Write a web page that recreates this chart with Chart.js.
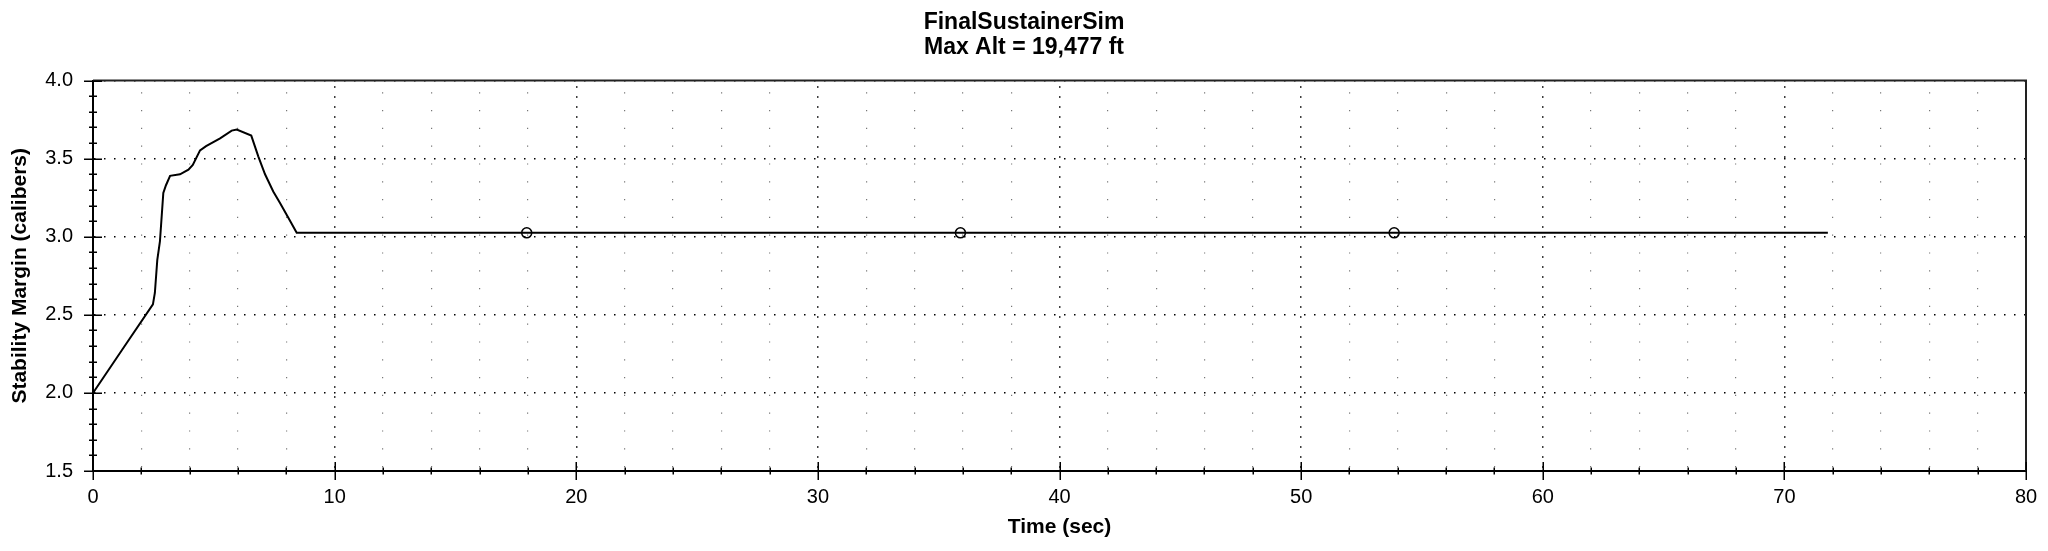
<!DOCTYPE html>
<html>
<head>
<meta charset="utf-8">
<script src="https://cdn.jsdelivr.net/npm/chart.js@4/dist/chart.umd.min.js"></script>
<style>
  html, body { margin: 0; padding: 0; background: #fff; }
  canvas { display: block; }
</style>
</head>
<body>
<canvas id="chart" width="2048" height="551"></canvas>
<script>
// flight data
let time = [0, 1.2, 2.48, 2.56, 2.66, 2.77, 2.91, 3.02, 3.19, 3.6, 3.95, 4.13, 4.43, 4.68,
  5.26, 5.74, 5.95, 6.55, 6.84, 7.12, 7.46, 7.74, 8.09, 8.43, 71.8];
let margin = [2.0, 2.275, 2.567, 2.64, 2.85, 2.97, 3.28, 3.33, 3.39, 3.40, 3.43, 3.46, 3.553, 3.58,
  3.63, 3.68, 3.686, 3.648, 3.515, 3.40, 3.29, 3.216, 3.12, 3.025, 3.025];

let markerTime = [17.95, 35.9, 53.85];
let markerMargin = [3.025, 3.025, 3.025];

let xTicks = [0, 10, 20, 30, 40, 50, 60, 70, 80];
let yTicks = [1.5, 2.0, 2.5, 3.0, 3.5, 4.0];

let titleLines = ['FinalSustainerSim', 'Max Alt = 19,477 ft'];
let xTitle = 'Time (sec)';
let yTitle = 'Stability Margin (calibers)';

const FONT = "'Liberation Sans', Arial, sans-serif";

// frame + tick marks that cross the axis lines
const framePlugin = {
  id: 'frame',
  afterDraw(chart) {
    const {ctx, chartArea: a, scales} = chart;
    const x = scales.x, y = scales.y;
    ctx.save();
    ctx.strokeStyle = '#222';
    ctx.lineWidth = 2;
    ctx.beginPath();
    ctx.moveTo(a.left, a.top);
    ctx.lineTo(a.right, a.top);
    ctx.lineTo(a.right, a.bottom);
    ctx.stroke();

    ctx.strokeStyle = '#000';
    ctx.lineWidth = 1.5;
    ctx.beginPath();
    for (let v = x.min; v <= x.max + 1e-9; v += 2) {
      const px = Math.round(x.getPixelForValue(v)) + 0.25;
      const len = Math.abs(v % 10) < 1e-9 ? 9 : 3.5;
      ctx.moveTo(px, a.bottom - len);
      ctx.lineTo(px, a.bottom + len);
    }
    for (let i = 0; i <= Math.round((y.max - y.min) / 0.1); i++) {
      const v = y.min + i * 0.1;
      const py = Math.round(y.getPixelForValue(v)) + 0.25;
      const len = i % 5 === 0 ? 9 : 4;
      ctx.moveTo(a.left - len, py);
      ctx.lineTo(a.left + len, py);
    }
    ctx.stroke();
    ctx.restore();
  }
};

let ctx = document.getElementById('chart').getContext('2d');
let graph = new Chart(ctx, {
  type: 'scatter',
  data: {
    datasets: [
      {
        label: 'Stability Margin',
        data: time.map((t, i) => ({x: t, y: margin[i]})),
        showLine: true,
        borderColor: '#000',
        borderWidth: 2,
        pointRadius: 0,
        fill: false,
        tension: 0,
      },
      {
        label: 'markers',
        data: markerTime.map((t, i) => ({x: t, y: markerMargin[i]})),
        showLine: false,
        pointRadius: 5,
        pointBorderWidth: 1.5,
        pointBorderColor: '#000',
        pointBackgroundColor: 'rgba(0,0,0,0)',
      },
    ],
  },
  options: {
    responsive: false,
    animation: false,
    devicePixelRatio: 1,
    layout: {padding: 0},
    plugins: {
      legend: {display: false},
      tooltip: {enabled: false},
      title: {
        display: true,
        text: titleLines,
        color: '#000',
        font: {family: FONT, size: 23, weight: 'bold', lineHeight: 1.1},
        padding: {top: 10, bottom: 20},
      },
    },
    scales: {
      x: {
        type: 'linear',
        position: 'bottom',
        min: 0,
        max: 80,
        afterBuildTicks: s => { s.ticks = xTicks.map(v => ({value: v})); },
        afterFit: s => { s.height = 80; s.paddingRight = 22; },
        ticks: {
          color: '#000',
          font: {family: FONT, size: 20},
          padding: 14,
          maxRotation: 0,
          autoSkip: false,
        },
        grid: {
          color: '#000',
          lineWidth: 1.5,
          drawTicks: false,
        },
        border: {display: true, color: '#000', width: 2, dash: [1.5, 8.5], dashOffset: 4.3},
        title: {
          display: true,
          text: xTitle,
          color: '#000',
          font: {family: FONT, size: 21, weight: 'bold', lineHeight: 1.2},
          padding: {top: 0, bottom: 11},
        },
      },
      xm: {
        type: 'linear',
        position: 'bottom',
        min: 0,
        max: 80,
        ticks: {display: false, stepSize: 2},
        afterFit: s => { s.height = 0; },
        grid: {
          color: c => (c.tick && Math.abs(c.tick.value % 10) < 1e-9) ? 'rgba(0,0,0,0)' : '#777',
          lineWidth: 1.2,
          drawTicks: false,
        },
        border: {display: false, dash: [1.2, 16.6], dashOffset: 6.2},
      },
      y: {
        type: 'linear',
        position: 'left',
        min: 1.5,
        max: 4.0,
        afterBuildTicks: s => { s.ticks = yTicks.map(v => ({value: v})); },
        afterFit: s => { s.width = 93; },
        ticks: {
          color: '#000',
          font: {family: FONT, size: 20},
          padding: 20,
          callback: v => Number(v).toFixed(1),
        },
        grid: {
          color: '#000',
          lineWidth: 1.5,
          drawTicks: false,
        },
        border: {display: true, color: '#000', width: 2, dash: [1.5, 8.5], dashOffset: 0},
        title: {
          display: true,
          text: yTitle,
          color: '#000',
          font: {family: FONT, size: 21, weight: 'bold', lineHeight: 1.2},
          padding: {top: 8, bottom: 0},
        },
      },
    },
  },
  plugins: [framePlugin],
});
</script>
</body>
</html>
